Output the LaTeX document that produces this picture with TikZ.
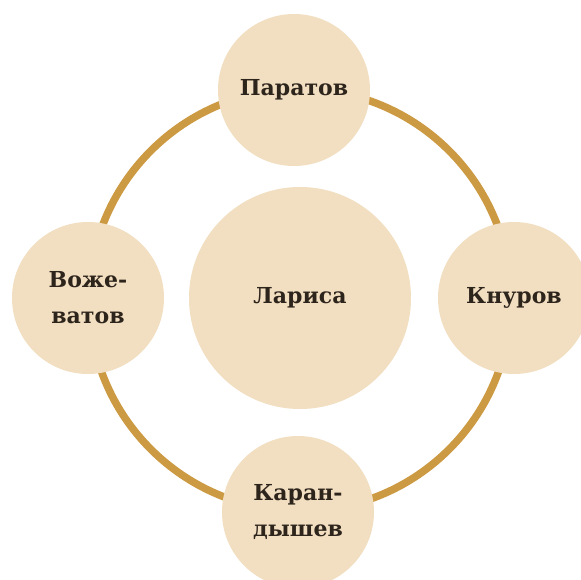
\documentclass[tikz,border=0pt]{standalone}
\usepackage{fontspec}
\setmainfont{DejaVu Serif}
\definecolor{ringcol}{RGB}{205,154,68}
\definecolor{bubcol}{RGB}{242,222,192}
\definecolor{txtcol}{RGB}{45,36,28}
\tikzset{
  ring/.style={draw=ringcol, line width=7.5pt},
  bub/.style={circle, fill=bubcol, inner sep=0pt, text=txtcol, align=center,
    font=\fontsize{22}{36}\selectfont\bfseries},
  smallbub/.style={bub, minimum size=152pt},
  bigbub/.style={bub, minimum size=222pt}
}
\begin{document}
\begin{tikzpicture}[x=1pt,y=-1pt]
\useasboundingbox (0,0) rectangle (581,579);
\fill[white] (0,0) rectangle (581,579);
\clip (0,0) rectangle (581,579);
\coordinate (ctr) at (300,300);
\draw[ring] (ctr) circle[radius=211];
\node[smallbub] (par) at (294,90) {Паратов};
\node[smallbub] (voz) at (88,298) {Воже-\\ватов};
\node[smallbub] (knu) at (514,298) {Кнуров};
\node[smallbub] (kar) at (298,512) {Каран-\\дышев};
\node[bigbub] (lar) at (300,298) {Лариса};
\end{tikzpicture}
\end{document}
